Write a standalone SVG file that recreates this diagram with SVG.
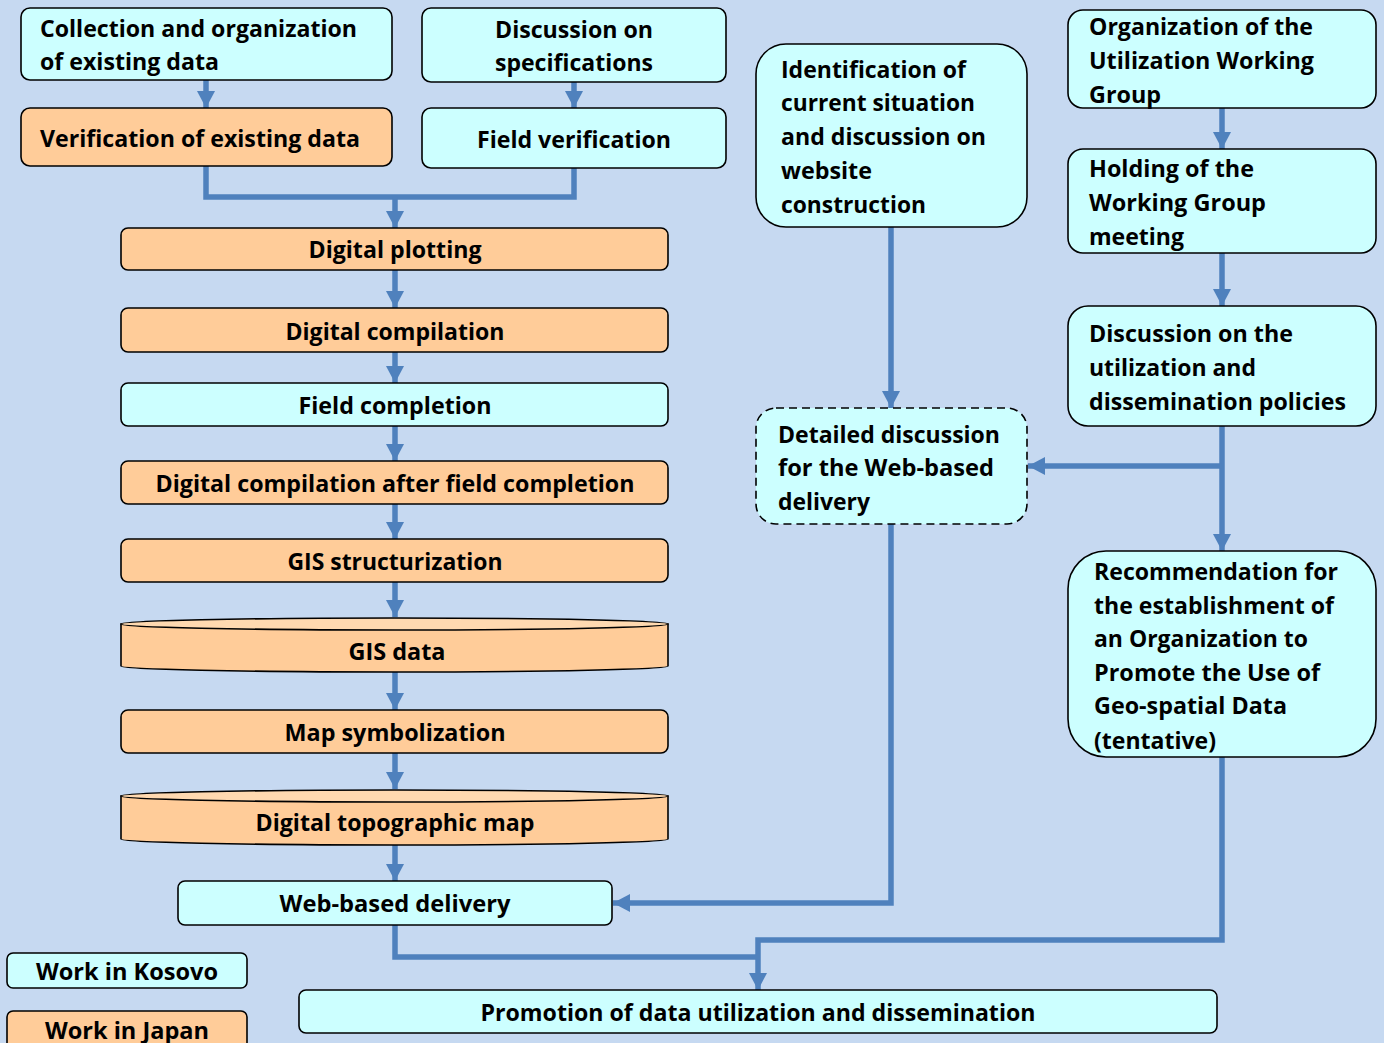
<svg xmlns="http://www.w3.org/2000/svg" width="1384" height="1043" viewBox="0 0 1384 1043">
<defs>
<style>
.bg{fill:#C6D9F1}
.k{fill:#CCFFFF;stroke:#000;stroke-width:1.6}
.j{fill:#FFCC99;stroke:#000;stroke-width:1.6}
.jt{fill:#FFD9B0;stroke:#000;stroke-width:1.6}
.dash{stroke-dasharray:8 5}
text{font-family:"Open Sans","Liberation Sans",sans-serif;font-weight:bold;font-size:24px;fill:#000}
.c{text-anchor:middle}
.ln{fill:none;stroke:#4F81BD;stroke-width:5.5}
</style>
<marker id="ah" markerUnits="userSpaceOnUse" markerWidth="18" markerHeight="18" viewBox="0 0 18 18" refX="17" refY="9" orient="auto">
<path d="M0,0 L17,9 L0,18 z" fill="#4F81BD"/>
</marker>
</defs>
<rect class="bg" x="0" y="0" width="1384" height="1043"/>

<g id="connectors">
<path class="ln" d="M206,80 L206,108" marker-end="url(#ah)"/>
<path class="ln" d="M574,82 L574,108" marker-end="url(#ah)"/>
<path class="ln" d="M206,166 L206,197 L574,197 L574,168"/>
<path class="ln" d="M395,197 L395,228" marker-end="url(#ah)"/>
<path class="ln" d="M395,270 L395,308" marker-end="url(#ah)"/>
<path class="ln" d="M395,352 L395,383" marker-end="url(#ah)"/>
<path class="ln" d="M395,426 L395,461" marker-end="url(#ah)"/>
<path class="ln" d="M395,504 L395,539" marker-end="url(#ah)"/>
<path class="ln" d="M395,582 L395,617" marker-end="url(#ah)"/>
<path class="ln" d="M395,672 L395,710" marker-end="url(#ah)"/>
<path class="ln" d="M395,753 L395,789" marker-end="url(#ah)"/>
<path class="ln" d="M395,845 L395,881" marker-end="url(#ah)"/>
<path class="ln" d="M891,227 L891,408" marker-end="url(#ah)"/>
<path class="ln" d="M891,524 L891,903 L613,903" marker-end="url(#ah)"/>
<path class="ln" d="M1222,108 L1222,149" marker-end="url(#ah)"/>
<path class="ln" d="M1222,253 L1222,306" marker-end="url(#ah)"/>
<path class="ln" d="M1222,426 L1222,551" marker-end="url(#ah)"/>
<path class="ln" d="M1222,466 L1028,466" marker-end="url(#ah)"/>
<path class="ln" d="M1222,757 L1222,940 L758,940 L758,990" marker-end="url(#ah)"/>
<path class="ln" d="M395,925 L395,957 L758,957"/>
</g>

<g id="n-collection">
<rect class="k" x="21" y="8" width="371" height="72" rx="9"/>
<text x="40" y="37" textLength="317" lengthAdjust="spacingAndGlyphs">Collection and organization</text>
<text x="40" y="70" textLength="179" lengthAdjust="spacingAndGlyphs">of existing data</text>
</g>
<g id="n-discussion-spec">
<rect class="k" x="422" y="8" width="304" height="74" rx="9"/>
<text class="c" x="574" y="38" textLength="158" lengthAdjust="spacingAndGlyphs">Discussion on</text>
<text class="c" x="574" y="71" textLength="158" lengthAdjust="spacingAndGlyphs">specifications</text>
</g>
<g id="n-verification">
<rect class="j" x="21" y="108" width="371" height="58" rx="9"/>
<text x="40" y="147" textLength="320" lengthAdjust="spacingAndGlyphs">Verification of existing data</text>
</g>
<g id="n-field-verification">
<rect class="k" x="422" y="108" width="304" height="60" rx="9"/>
<text class="c" x="574" y="148" textLength="194" lengthAdjust="spacingAndGlyphs">Field verification</text>
</g>
<g id="n-digital-plotting">
<rect class="j" x="121" y="228" width="547" height="42" rx="7"/>
<text class="c" x="395" y="258" textLength="173" lengthAdjust="spacingAndGlyphs">Digital plotting</text>
</g>
<g id="n-digital-compilation">
<rect class="j" x="121" y="308" width="547" height="44" rx="7"/>
<text class="c" x="395" y="340" textLength="219" lengthAdjust="spacingAndGlyphs">Digital compilation</text>
</g>
<g id="n-field-completion">
<rect class="k" x="121" y="383" width="547" height="43" rx="7"/>
<text class="c" x="395" y="414" textLength="193" lengthAdjust="spacingAndGlyphs">Field completion</text>
</g>
<g id="n-dc-after">
<rect class="j" x="121" y="461" width="547" height="43" rx="7"/>
<text class="c" x="395" y="492" textLength="479" lengthAdjust="spacingAndGlyphs">Digital compilation after field completion</text>
</g>
<g id="n-gis-structurization">
<rect class="j" x="121" y="539" width="547" height="43" rx="7"/>
<text class="c" x="395" y="570" textLength="215" lengthAdjust="spacingAndGlyphs">GIS structurization</text>
</g>
<g id="n-gis-data">
<path class="j" d="M121,624 L121,666 A273.5,6 0 0 0 668,666 L668,624 Z"/>
<ellipse class="jt" cx="394.5" cy="624" rx="273.5" ry="6"/>
<text class="c" x="397" y="660" textLength="97" lengthAdjust="spacingAndGlyphs">GIS data</text>
</g>
<g id="n-map-symbolization">
<rect class="j" x="121" y="710" width="547" height="43" rx="7"/>
<text class="c" x="395" y="741" textLength="221" lengthAdjust="spacingAndGlyphs">Map symbolization</text>
</g>
<g id="n-digital-topo">
<path class="j" d="M121,796 L121,839 A273.5,6 0 0 0 668,839 L668,796 Z"/>
<ellipse class="jt" cx="394.5" cy="796" rx="273.5" ry="6"/>
<text class="c" x="395" y="831" textLength="279" lengthAdjust="spacingAndGlyphs">Digital topographic map</text>
</g>
<g id="n-web-delivery">
<rect class="k" x="178" y="881" width="434" height="44" rx="7"/>
<text class="c" x="395" y="912" textLength="231" lengthAdjust="spacingAndGlyphs">Web-based delivery</text>
</g>
<g id="n-promotion">
<rect class="k" x="299" y="990" width="918" height="43" rx="7"/>
<text class="c" x="758" y="1021" textLength="555" lengthAdjust="spacingAndGlyphs">Promotion of data utilization and dissemination</text>
</g>
<g id="legend-kosovo">
<rect class="k" x="7" y="953" width="240" height="35" rx="6"/>
<text class="c" x="127" y="980" textLength="182" lengthAdjust="spacingAndGlyphs">Work in Kosovo</text>
</g>
<g id="legend-japan">
<rect class="j" x="7" y="1011" width="240" height="40" rx="6"/>
<text class="c" x="127" y="1039" textLength="164" lengthAdjust="spacingAndGlyphs">Work in Japan</text>
</g>
<g id="n-identification">
<rect class="k" x="756" y="44" width="271" height="183" rx="30"/>
<text x="781" y="78" textLength="185" lengthAdjust="spacingAndGlyphs">Identification of</text>
<text x="781" y="111" textLength="194" lengthAdjust="spacingAndGlyphs">current situation</text>
<text x="781" y="145" textLength="205" lengthAdjust="spacingAndGlyphs">and discussion on</text>
<text x="781" y="179" textLength="91" lengthAdjust="spacingAndGlyphs">website</text>
<text x="781" y="213" textLength="145" lengthAdjust="spacingAndGlyphs">construction</text>
</g>
<g id="n-detailed">
<rect class="k dash" x="756" y="408" width="271" height="116" rx="20"/>
<text x="778" y="443" textLength="222" lengthAdjust="spacingAndGlyphs">Detailed discussion</text>
<text x="778" y="476" textLength="216" lengthAdjust="spacingAndGlyphs">for the Web-based</text>
<text x="778" y="510" textLength="92" lengthAdjust="spacingAndGlyphs">delivery</text>
</g>
<g id="n-organization">
<rect class="k" x="1068" y="10" width="308" height="98" rx="15"/>
<text x="1089" y="35" textLength="224" lengthAdjust="spacingAndGlyphs">Organization of the</text>
<text x="1089" y="69" textLength="225" lengthAdjust="spacingAndGlyphs">Utilization Working</text>
<text x="1089" y="103" textLength="72" lengthAdjust="spacingAndGlyphs">Group</text>
</g>
<g id="n-holding">
<rect class="k" x="1068" y="149" width="308" height="104" rx="15"/>
<text x="1089" y="177" textLength="165" lengthAdjust="spacingAndGlyphs">Holding of the</text>
<text x="1089" y="211" textLength="177" lengthAdjust="spacingAndGlyphs">Working Group</text>
<text x="1089" y="245" textLength="95" lengthAdjust="spacingAndGlyphs">meeting</text>
</g>
<g id="n-discussion-policies">
<rect class="k" x="1068" y="306" width="308" height="120" rx="20"/>
<text x="1089" y="342" textLength="204" lengthAdjust="spacingAndGlyphs">Discussion on the</text>
<text x="1089" y="376" textLength="167" lengthAdjust="spacingAndGlyphs">utilization and</text>
<text x="1089" y="410" textLength="257" lengthAdjust="spacingAndGlyphs">dissemination policies</text>
</g>
<g id="n-recommendation">
<rect class="k" x="1068" y="551" width="308" height="206" rx="38"/>
<text x="1094" y="580" textLength="244" lengthAdjust="spacingAndGlyphs">Recommendation for</text>
<text x="1094" y="614" textLength="240" lengthAdjust="spacingAndGlyphs">the establishment of</text>
<text x="1094" y="647" textLength="214" lengthAdjust="spacingAndGlyphs">an Organization to</text>
<text x="1094" y="681" textLength="226" lengthAdjust="spacingAndGlyphs">Promote the Use of</text>
<text x="1094" y="714" textLength="193" lengthAdjust="spacingAndGlyphs">Geo-spatial Data</text>
<text x="1094" y="749" textLength="122" lengthAdjust="spacingAndGlyphs">(tentative)</text>
</g>
</svg>
